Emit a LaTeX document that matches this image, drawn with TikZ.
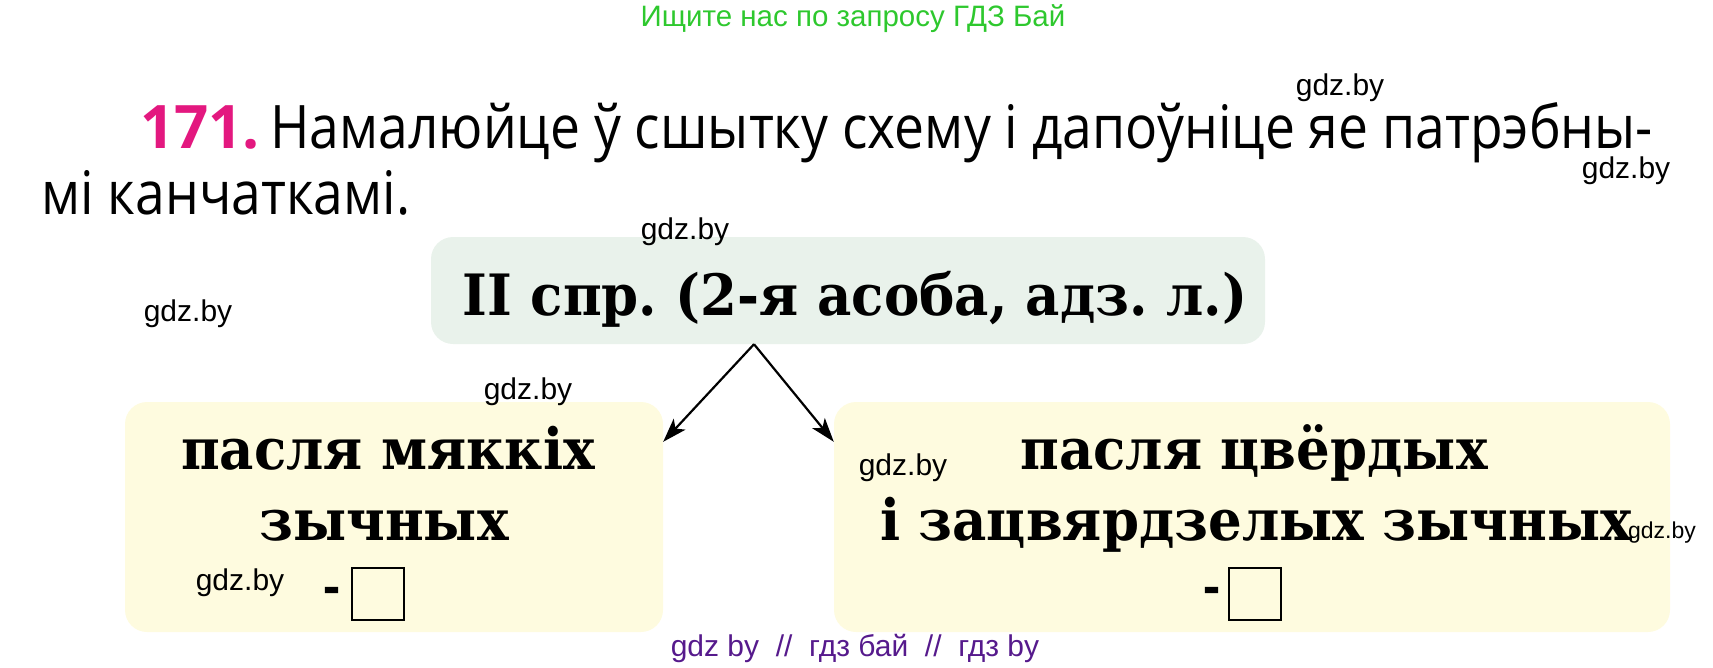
\documentclass[tikz,border=0pt]{standalone}
\usepackage{fontspec}
\usetikzlibrary{arrows.meta,positioning}
\newfontfamily\headfont[FakeStretch=0.89]{Open Sans}
\newfontfamily\numfont{Open Sans}
\newfontfamily\markfont{Liberation Sans}
\newfontfamily\boxfont[FakeStretch=0.93]{DejaVu Serif}
\newfontfamily\dashfont[FakeBold=2.5]{DejaVu Serif}
\definecolor{sprgreen}{HTML}{E9F2EB}
\definecolor{zychyellow}{HTML}{FEFBDF}
\definecolor{searchgreen}{HTML}{2EC82E}
\definecolor{nummagenta}{HTML}{E3187F}
\definecolor{footpurple}{HTML}{561A8C}
\tikzset{
  headtext/.style={font=\headfont\fontsize{60}{72}\selectfont, inner sep=0pt, anchor=base west},
  schemebox/.style={rounded corners=22pt, inner sep=0pt},
  schemetext/.style={font=\boxfont\bfseries\fontsize{57}{60}\selectfont, inner sep=0pt, anchor=base},
  dashtext/.style={font=\dashfont\bfseries\fontsize{40}{40}\selectfont, inner sep=0pt, anchor=east},
  gdzmark/.style={font=\markfont\fontsize{30}{32}\selectfont, inner sep=0pt},
  answerbox/.style={draw, line width=2pt, minimum width=52pt, minimum height=52pt, inner sep=0pt},
  fork/.style={line width=2.2pt, -{Stealth[length=24pt, width=16pt, inset=6pt]}}
}
\frenchspacing
\begin{document}
\begin{tikzpicture}[x=1pt, y=-1pt]
  \useasboundingbox (0, 0) rectangle (1713, 667);

  \node [font=\markfont\fontsize{29.5}{31}\selectfont, text=searchgreen, inner sep=0pt] (search) at (853, 19) {Ищите нас по запросу ГДЗ Бай};

  % task text
  \node [headtext, font=\numfont\bfseries\fontsize{60}{72}\selectfont, text=nummagenta] (num) at (140, 148) {171.};
  \node [headtext] (task1) at (270, 148) {Намалюйце ў сшытку схему і дапоўніце яе патрэбны-};
  \node [headtext] (task2) at (41, 214) {мі канчаткамі.};

  % scheme boxes
  \node [schemebox, fill=sprgreen, minimum width=834pt, minimum height=107pt] (spr) at (848, 290.5) {};
  \node [schemebox, fill=zychyellow, minimum width=538pt, minimum height=230pt] (soft) at (394, 517) {};
  \node [schemebox, fill=zychyellow, minimum width=836pt, minimum height=230pt] (hard) at (1252, 517) {};

  \node [schemetext] (sprtext) at (855, 315) {II спр. (2-я асоба, адз. л.)};
  \node [schemetext] (soft1) at (388, 469) {пасля мяккіх};
  \node [schemetext] (soft2) at (384, 540) {зычных};
  \node [schemetext] (hard1) at (1254, 469) {пасля цвёрдых};
  \node [schemetext] (hard2) at (1256, 540) {і зацвярдзелых зычных};

  \node [answerbox] (softans) at (378, 594) {};
  \node [answerbox] (hardans) at (1255, 594) {};
  \node [dashtext] (softdash) at ([xshift=-11pt]softans.west) {-};
  \node [dashtext] (harddash) at ([xshift=-8pt]hardans.west) {-};

  % arrows
  \coordinate (forktop) at ([xshift=-94pt]spr.south);
  \coordinate (softtip) at ([yshift=-40pt]soft.north east);
  \coordinate (hardtip) at ([yshift=-40pt]hard.north west);
  \draw [fork] (forktop) -- (softtip);
  \draw [fork] (forktop) -- (hardtip);

  % watermarks
  \node [gdzmark] (gdz1) at (1340, 88) {gdz.by};
  \node [gdzmark] (gdz2) at (1626, 171) {gdz.by};
  \node [gdzmark] (gdz3) at (685, 232) {gdz.by};
  \node [gdzmark] (gdz4) at (188, 314) {gdz.by};
  \node [gdzmark] (gdz5) at (528, 392) {gdz.by};
  \node [gdzmark] (gdz6) at (903, 468) {gdz.by};
  \node [gdzmark] (gdz7) at (240, 583) {gdz.by};
  \node [gdzmark, font=\markfont\fontsize{23}{25}\selectfont] (gdz8) at (1662, 533) {gdz.by};

  \node [font=\markfont\fontsize{30}{32}\selectfont, text=footpurple, inner sep=0pt] (foot) at (855, 648) {gdz by \ // \ гдз бай \ // \ гдз by};
\end{tikzpicture}
\end{document}
